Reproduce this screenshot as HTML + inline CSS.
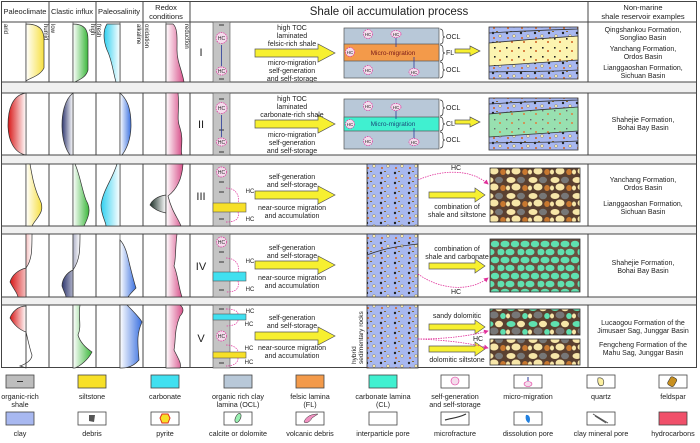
<!DOCTYPE html>
<html><head><meta charset="utf-8"><style>
html,body{margin:0;padding:0;background:#fff}
svg{display:block}
text{font-family:"Liberation Sans",sans-serif;fill:#222}
.s{font-size:7px;text-anchor:middle}
.h{font-size:8.5px;text-anchor:middle}
.v{font-size:6px}
.hc{font-size:6px;fill:#e0309a;text-anchor:middle}
</style></head><body>
<svg width="700" height="443" viewBox="0 0 700 443" xmlns="http://www.w3.org/2000/svg">
<defs>
<linearGradient id="gy" x1="0" x2="1"><stop offset="0" stop-color="#fff"/><stop offset="1" stop-color="#f7e040"/></linearGradient>
<linearGradient id="gg" x1="0" x2="1"><stop offset="0" stop-color="#fff"/><stop offset="1" stop-color="#3cb83c"/></linearGradient>
<linearGradient id="gc" x1="0" x2="1"><stop offset="0" stop-color="#30d0f0"/><stop offset="1" stop-color="#fff"/></linearGradient>
<linearGradient id="gp" x1="0" x2="1"><stop offset="0" stop-color="#fff"/><stop offset="1" stop-color="#d8508a"/></linearGradient>
<linearGradient id="gr" x1="0" x2="1"><stop offset="0" stop-color="#d81818"/><stop offset="1" stop-color="#fff"/></linearGradient>
<linearGradient id="gn" x1="0" x2="1"><stop offset="0" stop-color="#303870"/><stop offset="1" stop-color="#fff"/></linearGradient>
<linearGradient id="gb" x1="0" x2="1"><stop offset="0" stop-color="#fff"/><stop offset="1" stop-color="#3a70e0"/></linearGradient>
<linearGradient id="gk" x1="0" x2="1"><stop offset="0" stop-color="#1c3028"/><stop offset="1" stop-color="#fff"/></linearGradient>
<pattern id="pm" width="22" height="16" patternUnits="userSpaceOnUse">
<rect width="22" height="16" fill="#5a4030"/>
<ellipse cx="5" cy="4" rx="4.5" ry="3" fill="#f7e6a8"/><ellipse cx="15" cy="4" rx="4" ry="3.2" fill="#777"/>
<ellipse cx="10" cy="11" rx="4.5" ry="3.5" fill="#f7e6a8"/><ellipse cx="19" cy="12" rx="2.8" ry="3" fill="#c87830"/>
<ellipse cx="2" cy="12" rx="2" ry="2.5" fill="#f7e6a8"/></pattern>
<pattern id="pg" width="20" height="16" patternUnits="userSpaceOnUse">
<rect width="20" height="16" fill="#6a5040"/>
<ellipse cx="5" cy="4" rx="4.5" ry="3.3" fill="#5fe0b0"/><ellipse cx="15" cy="4" rx="4.2" ry="3.3" fill="#5fe0b0"/>
<ellipse cx="10" cy="12" rx="4.5" ry="3.3" fill="#5fe0b0"/><ellipse cx="1" cy="12" rx="3.5" ry="3.3" fill="#5fe0b0"/><ellipse cx="19" cy="12" rx="1.5" ry="3" fill="#5fe0b0"/></pattern>
<pattern id="pv" width="22" height="16" patternUnits="userSpaceOnUse">
<rect width="22" height="16" fill="#5a4030"/>
<ellipse cx="5" cy="4" rx="4.5" ry="3" fill="#5fe0b0"/><ellipse cx="15" cy="4" rx="4" ry="3.2" fill="#f7e6a8"/>
<ellipse cx="10" cy="11" rx="4.5" ry="3.5" fill="#777"/><ellipse cx="19" cy="12" rx="2.8" ry="3" fill="#5fe0b0"/><ellipse cx="2" cy="12" rx="2" ry="2.5" fill="#f7e6a8"/></pattern>
<pattern id="pd" width="14" height="10" patternUnits="userSpaceOnUse">
<rect width="14" height="10" fill="#a8b8f0"/>
<circle cx="3" cy="3" r="1.2" fill="#222"/><circle cx="10" cy="6" r="1.5" fill="#f7e6a8" stroke="#555" stroke-width=".3"/><rect x="6" y="1" width="2" height="1" fill="#8a6a30"/><circle cx="4" cy="8" r="1" fill="#d06020"/></pattern>
<pattern id="py" width="12" height="9" patternUnits="userSpaceOnUse">
<rect width="12" height="9" fill="#fcf4b0"/><rect x="2" y="2" width="1.6" height="1.6" fill="#222"/><circle cx="8" cy="6" r="1" fill="#d06020"/></pattern>
<pattern id="pc" width="12" height="9" patternUnits="userSpaceOnUse">
<rect width="12" height="9" fill="#98e0b0"/><rect x="2" y="2" width="1.4" height="1.4" fill="#666"/><circle cx="8" cy="6" r="1" fill="#e08040"/></pattern>
<marker id="ah" markerWidth="6" markerHeight="6" refX="5" refY="3" orient="auto"><path d="M0,0 L6,3 L0,6Z" fill="#e0309a"/></marker>
</defs>

<!-- frame -->
<g stroke="#444" stroke-width="1" fill="none">
<rect x="1.5" y="1.5" width="695" height="366"/>
<line x1="1.5" y1="22" x2="696.5" y2="22"/>
<line x1="1.5" y1="82" x2="696.5" y2="82"/><line x1="1.5" y1="93" x2="696.5" y2="93"/>
<line x1="1.5" y1="155" x2="696.5" y2="155"/><line x1="1.5" y1="164" x2="696.5" y2="164"/>
<line x1="1.5" y1="226" x2="696.5" y2="226"/><line x1="1.5" y1="234" x2="696.5" y2="234"/>
<line x1="1.5" y1="297" x2="696.5" y2="297"/><line x1="1.5" y1="305" x2="696.5" y2="305"/>
</g>
<g fill="#f0f0f0"><rect x="2" y="82.5" width="694" height="10"/><rect x="2" y="155.5" width="694" height="8"/><rect x="2" y="226.5" width="694" height="7"/><rect x="2" y="297.5" width="694" height="7"/></g>
<g stroke="#444" stroke-width="1">
<line x1="49" y1="1" x2="49" y2="82"/><line x1="96" y1="1" x2="96" y2="82"/><line x1="143" y1="1" x2="143" y2="82"/><line x1="190" y1="1" x2="190" y2="82"/><line x1="588" y1="1" x2="588" y2="82"/>
<g id="cols">
<line x1="49" y1="93" x2="49" y2="155"/><line x1="96" y1="93" x2="96" y2="155"/><line x1="143" y1="93" x2="143" y2="155"/><line x1="190" y1="93" x2="190" y2="155"/><line x1="588" y1="93" x2="588" y2="155"/>
<line x1="49" y1="164" x2="49" y2="226"/><line x1="96" y1="164" x2="96" y2="226"/><line x1="143" y1="164" x2="143" y2="226"/><line x1="190" y1="164" x2="190" y2="226"/><line x1="588" y1="164" x2="588" y2="226"/>
<line x1="49" y1="234" x2="49" y2="297"/><line x1="96" y1="234" x2="96" y2="297"/><line x1="143" y1="234" x2="143" y2="297"/><line x1="190" y1="234" x2="190" y2="297"/><line x1="588" y1="234" x2="588" y2="297"/>
<line x1="49" y1="305" x2="49" y2="368"/><line x1="96" y1="305" x2="96" y2="368"/><line x1="143" y1="305" x2="143" y2="368"/><line x1="190" y1="305" x2="190" y2="368"/><line x1="588" y1="305" x2="588" y2="368"/>
</g>
<g stroke="#666" stroke-width="0.8">
<line x1="26" y1="22" x2="26" y2="82"/><line x1="73" y1="22" x2="73" y2="82"/><line x1="120" y1="22" x2="120" y2="82"/><line x1="166" y1="22" x2="166" y2="82"/>
<line x1="26" y1="93" x2="26" y2="155"/><line x1="73" y1="93" x2="73" y2="155"/><line x1="120" y1="93" x2="120" y2="155"/><line x1="166" y1="93" x2="166" y2="155"/>
<line x1="26" y1="164" x2="26" y2="226"/><line x1="73" y1="164" x2="73" y2="226"/><line x1="120" y1="164" x2="120" y2="226"/><line x1="166" y1="164" x2="166" y2="226"/>
<line x1="26" y1="234" x2="26" y2="297"/><line x1="73" y1="234" x2="73" y2="297"/><line x1="120" y1="234" x2="120" y2="297"/><line x1="166" y1="234" x2="166" y2="297"/>
<line x1="26" y1="305" x2="26" y2="368"/><line x1="73" y1="305" x2="73" y2="368"/><line x1="120" y1="305" x2="120" y2="368"/><line x1="166" y1="305" x2="166" y2="368"/>
</g>
</g>

<!-- headers -->
<text x="25" y="14" class="s" style="font-size:7.5px">Paleoclimate</text>
<text x="72" y="14" class="s" style="font-size:7.5px">Clastic influx</text>
<text x="119" y="14" class="s" style="font-size:7.5px">Paleosalinity</text>
<text x="166" y="10" class="s" style="font-size:7.5px">Redox</text>
<text x="166" y="19" class="s" style="font-size:7.5px">conditions</text>
<text x="389" y="15" style="font-size:11.5px;text-anchor:middle">Shale oil accumulation process</text>
<text x="643" y="10" class="s" style="font-size:7.5px">Non-marine</text>
<text x="643" y="19" class="s" style="font-size:7.5px">shale reservoir examples</text>
<g class="v" fill="#333">
<text transform="translate(4,24) rotate(90)" class="v">arid</text>
<text transform="translate(44,24) rotate(90)" class="v">humid</text>
<text transform="translate(51,24) rotate(90)" class="v">low</text>
<text transform="translate(91,24) rotate(90)" class="v">high</text>
<text transform="translate(97,24) rotate(90)" class="v">fresh</text>
<text transform="translate(137,24) rotate(90)" class="v">alkaline</text>
<text transform="translate(145,24) rotate(90)" class="v">oxidation</text>
<text transform="translate(185,24) rotate(90)" class="v">reduction</text>
</g>

<!-- curves -->
<g stroke="#333" stroke-width="0.7">
<path d="M26,24 C40,24 44,30 44,40 L44,68 C40,76 30,78 26,81Z" fill="url(#gy)"/>
<path d="M73,24 C85,24 88,30 88,40 L88,70 C86,78 78,80 75,82 L73,82Z" fill="url(#gg)"/>
<path d="M120,24 L107,24 C103,30 103,40 107,50 C112,60 113,72 116,82 L120,82Z" fill="url(#gc)"/>
<path d="M166,24 L173,24 C178,28 177,40 177,50 C177,62 182,70 184,82 L166,82Z" fill="url(#gp)"/>

<path d="M26,93 C12,95 8,110 8,125 C8,140 14,153 26,155Z" fill="url(#gr)"/>
<path d="M73,93 C64,100 62,115 62,125 C62,140 66,150 70,155 L73,155Z" fill="url(#gn)"/>
<path d="M120,93 C128,100 131,110 131,125 C131,140 126,150 122,155 L120,155Z" fill="url(#gb)"/>
<path d="M166,93 L178,93 C180,110 176,118 180,128 C184,140 180,150 182,155 L166,155Z" fill="url(#gp)"/>

<path d="M26,164 L30,164 C32,175 34,188 40,200 C46,212 36,218 32,226 L26,226Z" fill="url(#gy)"/>
<path d="M73,164 L75,164 C80,175 82,190 86,200 C92,210 88,218 84,226 L73,226Z" fill="url(#gg)"/>
<path d="M120,164 L117,164 C112,180 103,190 101,205 C101,215 106,222 106,226 L120,226Z" fill="url(#gc)"/>
<path d="M166,195 C158,196 152,200 150,205 C155,210 160,212 166,213Z" fill="url(#gk)"/>
<path d="M166,164 L183,164 C182,180 176,190 168,196 C172,212 178,218 181,226 L166,226Z" fill="url(#gp)"/>

<path d="M26,234 L32,234 C32,250 32,260 26,268 C18,270 12,275 10,282 C14,290 17,292 18,297 L26,297Z" fill="url(#gr)"/>
<path d="M73,234 L80,234 C80,250 80,260 73,270 C66,273 62,280 62,286 C64,292 66,295 66,297 L73,297Z" fill="url(#gn)"/>
<path d="M120,240 C126,246 128,258 130,266 C132,274 134,282 136,288 C132,292 130,294 128,297 L120,297Z" fill="url(#gb)"/>
<path d="M166,234 L177,234 C175,250 176,260 174,266 C178,275 178,285 182,297 L166,297Z" fill="url(#gp)"/>

<path d="M26,306 C18,306 12,312 10,318 C14,325 20,330 26,332Z" fill="url(#gr)"/>
<path d="M26,332 C28,340 30,350 32,355 C32,360 26,364 20,366 L26,368Z" fill="none"/>
<path d="M73,305 L80,305 C78,318 82,326 78,335 C80,342 86,348 92,352 C88,360 80,366 75,368 L73,368Z" fill="url(#gg)"/>
<path d="M120,305 L127,305 C134,312 140,318 142,322 C136,335 138,345 139,360 C134,366 128,368 122,368 L120,368Z" fill="url(#gb)"/>
<path d="M166,305 L180,305 C184,308 184,312 180,316 C174,330 176,340 174,350 C178,358 182,364 180,368 L166,368Z" fill="url(#gp)"/>
</g>

<!-- roman numerals -->
<g style="font-size:11px;text-anchor:middle">
<text x="201" y="56">I</text><text x="201" y="128">II</text><text x="201" y="200">III</text><text x="201" y="270">IV</text><text x="201" y="342">V</text>
</g>

<!-- strips -->
<g fill="#c4c4c4" stroke="#555" stroke-width="0.6">
<rect x="213" y="22" width="17" height="60"/><rect x="213" y="93" width="17" height="62"/><rect x="213" y="164" width="17" height="62"/><rect x="213" y="234" width="17" height="63"/><rect x="213" y="305" width="17" height="63"/>
</g>
<g stroke="#333" stroke-width="1">
<line x1="219" y1="25" x2="224" y2="25"/><line x1="219" y1="79" x2="224" y2="79"/>
<line x1="219" y1="99" x2="224" y2="99"/><line x1="219" y1="130" x2="224" y2="130"/><line x1="219" y1="152" x2="224" y2="152"/>
<line x1="219" y1="182" x2="224" y2="182"/><line x1="219" y1="192" x2="224" y2="192"/><line x1="219" y1="219" x2="224" y2="219"/>
<line x1="219" y1="252" x2="224" y2="252"/><line x1="219" y1="262" x2="224" y2="262"/><line x1="219" y1="290" x2="224" y2="290"/>
<line x1="219" y1="309" x2="224" y2="309"/><line x1="219" y1="340" x2="224" y2="340"/><line x1="219" y1="363" x2="224" y2="363"/>
</g>
<!-- layers in strips -->
<rect x="213" y="203" width="33" height="9" fill="#f7e028" stroke="#555" stroke-width=".6"/>
<rect x="213" y="272" width="33" height="9" fill="#40e0f0" stroke="#555" stroke-width=".6"/>
<rect x="213" y="314" width="33" height="6" fill="#40e0f0" stroke="#555" stroke-width=".6"/>
<rect x="213" y="352" width="33" height="6" fill="#f7e028" stroke="#555" stroke-width=".6"/>
<!-- HC circles -->
<g fill="#f4dcec" stroke="#e0309a" stroke-width="0.7" stroke-dasharray="1.5,1">
<circle cx="221.5" cy="38" r="5.5"/><ellipse cx="221.5" cy="71" rx="5" ry="4"/>
<circle cx="221.5" cy="108" r="5.5"/><ellipse cx="221.5" cy="142" rx="5" ry="4"/>
<circle cx="221.5" cy="172" r="5"/><circle cx="221.5" cy="242" r="5"/><circle cx="221.5" cy="336" r="5"/>
</g>
<g class="hc" style="font-size:5px"><text x="221.5" y="40">HC</text><text x="221.5" y="73">HC</text><text x="221.5" y="110">HC</text><text x="221.5" y="144">HC</text><text x="221.5" y="174">HC</text><text x="221.5" y="244">HC</text><text x="221.5" y="338">HC</text></g>
<g stroke="#2a3a9a" stroke-width=".8"><line x1="221.5" y1="66" x2="221.5" y2="45"/><line x1="221.5" y1="137" x2="221.5" y2="115"/></g>
<g fill="none" stroke="#e0309a" stroke-width=".7" stroke-dasharray="1.5,1">
<path d="M226,188 C236,188 240,196 238,203"/><path d="M238,212 C240,220 234,222 226,222"/>
<path d="M226,258 C236,258 240,266 238,272"/><path d="M238,281 C240,290 234,292 226,292"/>
<path d="M226,309 C234,309 238,311 238,314"/><path d="M238,320 C238,324 232,326 226,326"/>
<path d="M226,345 C234,345 238,349 238,352"/><path d="M238,358 C238,364 232,366 226,366"/>
</g>
<g class="hc"><text x="250" y="193">HC</text><text x="250" y="221">HC</text><text x="250" y="263">HC</text><text x="250" y="291">HC</text><text x="250" y="313">HC</text><text x="249" y="326">HC</text><text x="249" y="350">HC</text><text x="249" y="364">HC</text></g>

<!-- yellow arrows -->
<g fill="#f7f030" stroke="#555" stroke-width="0.7">
<polygon points="255,49 318,49 318,44 335,53 318,62 318,57 255,57"/>
<polygon points="255,120 318,120 318,115 335,124 318,133 318,128 255,128"/>
<polygon points="255,191 318,191 318,186 335,195 318,204 318,199 255,199"/>
<polygon points="255,261 318,261 318,256 335,265 318,274 318,269 255,269"/>
<polygon points="255,332 318,332 318,327 335,336 318,345 318,340 255,340"/>
<polygon points="455,49 470,49 470,46 480,51 470,56 470,53 455,53"/>
<polygon points="455,120 470,120 470,117 480,122 470,127 470,124 455,124"/>
<polygon points="429,192 475,192 475,188 485,195 475,202 475,198 429,198"/>
<polygon points="429,263 475,263 475,259 485,266 475,273 475,269 429,269"/>
<polygon points="429,324 475,324 475,320 485,327 475,334 475,330 429,330"/>
<polygon points="429,346 475,346 475,342 485,349 475,356 475,352 429,352"/>
</g>
<g class="s">
<text x="292" y="30">high TOC</text><text x="292" y="38">laminated</text><text x="292" y="46">felsic-rich shale</text>
<text x="292" y="65">micro-migration</text><text x="292" y="73">self-generation</text><text x="292" y="81">and self-storage</text>
<text x="292" y="101">high TOC</text><text x="292" y="109">laminated</text><text x="292" y="117">carbonate-rich shale</text>
<text x="292" y="137">micro-migration</text><text x="292" y="145">self-generation</text><text x="292" y="153">and self-storage</text>
<text x="292" y="179">self-generation</text><text x="292" y="187">and self-storage</text><text x="292" y="210">near-source migration</text><text x="292" y="218">and accumulation</text>
<text x="292" y="250">self-generation</text><text x="292" y="258">and self-storage</text><text x="292" y="280">near-source migration</text><text x="292" y="288">and accumulation</text>
<text x="292" y="320">self-generation</text><text x="292" y="328">and self-storage</text><text x="292" y="350">near-source migration</text><text x="292" y="358">and accumulation</text>
<text x="457" y="209">combination of</text><text x="457" y="217">shale and siltstone</text>
<text x="457" y="251">combination of</text><text x="457" y="259">shale and carbonate</text>
<text x="457" y="318">sandy dolomitic</text><text x="457" y="362">dolomitic siltstone</text>
</g>
<text transform="translate(356,364) rotate(-90)" class="s" style="font-size:6.5px;text-anchor:start">hybrid</text>
<text transform="translate(363,364) rotate(-90)" class="s" style="font-size:6.5px;text-anchor:start">sedimentary rocks</text>

<!-- OCL boxes -->
<g stroke="#555" stroke-width=".7">
<rect x="344" y="28" width="95" height="50" fill="#b8c8d8"/><rect x="344" y="44" width="95" height="17" fill="#f39a4a"/>
<rect x="344" y="99" width="95" height="50" fill="#b8c8d8"/><rect x="344" y="117" width="95" height="14" fill="#40f0d0"/>
</g>
<g fill="#f4dcec" stroke="#e0309a" stroke-width=".7" stroke-dasharray="1.5,1">
<circle cx="368" cy="34" r="4.5"/><ellipse cx="396" cy="34" rx="5" ry="3.5"/><circle cx="350" cy="52" r="4.5"/><circle cx="368" cy="70" r="4.5"/><ellipse cx="414" cy="72" rx="5" ry="3.5"/>
<circle cx="368" cy="106" r="4.5"/><ellipse cx="396" cy="107" rx="5" ry="3.5"/><circle cx="350" cy="124" r="4.5"/><circle cx="368" cy="141" r="4.5"/><ellipse cx="414" cy="142" rx="5" ry="3.5"/>
</g>
<g class="hc" style="font-size:4.5px"><text x="368" y="36">HC</text><text x="396" y="36">HC</text><text x="350" y="54">HC</text><text x="368" y="72">HC</text><text x="414" y="74">HC</text>
<text x="368" y="108">HC</text><text x="396" y="109">HC</text><text x="350" y="126">HC</text><text x="368" y="143">HC</text><text x="414" y="144">HC</text></g>
<g stroke="#2a3a9a" stroke-width=".8"><line x1="396" y1="38" x2="396" y2="47"/><line x1="414" y1="68" x2="414" y2="57"/><line x1="396" y1="111" x2="396" y2="119"/><line x1="414" y1="138" x2="414" y2="128"/></g>
<text x="393" y="55" class="s" style="font-size:6.5px;fill:#7a1a1a">Micro-migration</text>
<text x="393" y="126" class="s" style="font-size:6.5px;fill:#1a4a7a">Micro-migration</text>
<g fill="none" stroke="#333" stroke-width=".7">
<path d="M440,29 Q443,29 443,33 L443,35 Q443,37 445,37 Q443,37 443,39 L443,41 Q443,44 440,44"/>
<path d="M440,45 Q443,45 443,49 L443,51 Q443,53 445,53 Q443,53 443,55 L443,57 Q443,61 440,61"/>
<path d="M440,62 Q443,62 443,66 L443,68 Q443,70 445,70 Q443,70 443,72 L443,74 Q443,78 440,78"/>
<path d="M440,100 Q443,100 443,104 L443,106 Q443,108 445,108 Q443,108 443,110 L443,112 Q443,116 440,116"/>
<path d="M440,117 Q443,117 443,121 L443,122 Q443,124 445,124 Q443,124 443,126 L443,127 Q443,131 440,131"/>
<path d="M440,132 Q443,132 443,136 L443,138 Q443,140 445,140 Q443,140 443,142 L443,144 Q443,148 440,148"/>
</g>
<g style="font-size:7px"><text x="446" y="39">OCL</text><text x="446" y="55">FL</text><text x="446" y="72">OCL</text><text x="446" y="110">OCL</text><text x="446" y="126">CL</text><text x="446" y="142">OCL</text></g>

<!-- thin section images -->
<g stroke="#333" stroke-width=".8">
<rect x="489" y="27" width="89" height="52" fill="url(#pd)"/>
<path d="M489,43 C520,40 550,38 578,36 L578,60 C550,62 520,64 489,66Z" fill="url(#py)"/>
<rect x="489" y="98" width="89" height="52" fill="url(#pd)"/>
<path d="M489,114 C520,111 550,109 578,107 L578,131 C550,133 520,135 489,137Z" fill="url(#pc)"/>
<rect x="367" y="164" width="51" height="62" fill="url(#pd)"/>
<rect x="367" y="234" width="51" height="63" fill="url(#pd)"/>
<rect x="367" y="305" width="51" height="63" fill="url(#pd)"/>
<rect x="490" y="168" width="90" height="54" fill="url(#pm)"/>
<rect x="490" y="239" width="90" height="53" fill="url(#pg)"/>
<rect x="490" y="309" width="90" height="26" fill="url(#pv)"/>
<rect x="490" y="339" width="90" height="26" fill="url(#pm)"/>
</g>
<g fill="none" stroke="#333" stroke-width=".8"><path d="M489,33 C520,31 550,30 578,29"/><path d="M489,72 C520,71 550,72 578,70"/><path d="M489,104 C520,102 550,101 578,100"/><path d="M489,143 C520,142 550,143 578,141"/><path d="M367,255 C385,248 400,246 418,244"/></g>
<g fill="none" stroke="#e0309a" stroke-width=".8" stroke-dasharray="1.5,1">
<path d="M418,180 C440,170 470,168 488,184" marker-end="url(#ah)"/>
<path d="M418,274 C440,290 470,292 488,278" marker-end="url(#ah)"/>
<path d="M418,339 C445,339 470,336 488,331" marker-end="url(#ah)"/>
<path d="M418,339 C445,340 470,343 488,348" marker-end="url(#ah)"/>
</g>
<g class="hc" style="font-size:7px"><text x="456" y="170">HC</text><text x="456" y="294">HC</text><text x="478" y="341">HC</text></g>

<!-- examples -->
<g class="s">
<text x="643" y="32">Qingshankou Formation,</text><text x="643" y="40">Songliao Basin</text>
<text x="643" y="51">Yanchang Formation,</text><text x="643" y="59">Ordos Basin</text>
<text x="643" y="70">Lianggaoshan Formation,</text><text x="643" y="78">Sichuan Basin</text>
<text x="643" y="122">Shahejie Formation,</text><text x="643" y="130">Bohai Bay  Basin</text>
<text x="643" y="182">Yanchang Formation,</text><text x="643" y="190">Ordos Basin</text>
<text x="643" y="206">Lianggaoshan Formation,</text><text x="643" y="214">Sichuan Basin</text>
<text x="643" y="265">Shahejie Formation,</text><text x="643" y="273">Bohai Bay Basin</text>
<text x="643" y="325">Lucaogou Formation of the</text><text x="643" y="333">Jimusaer Sag, Junggar Basin</text>
<text x="643" y="347">Fengcheng Formation of the</text><text x="643" y="355">Mahu Sag, Junggar Basin</text>
</g>

<!-- legend -->
<g stroke="#444" stroke-width=".8">
<rect x="6" y="375" width="28" height="13" fill="#bdbdbd"/>
<rect x="78" y="375" width="28" height="13" fill="#f7e028"/>
<rect x="151" y="375" width="28" height="13" fill="#40e0f0"/>
<rect x="224" y="375" width="28" height="13" fill="#b8c8d8"/>
<rect x="296" y="375" width="28" height="13" fill="#f39a4a"/>
<rect x="369" y="375" width="28" height="13" fill="#40f0d0"/>
<rect x="441" y="375" width="28" height="13" fill="#fff"/>
<rect x="514" y="375" width="28" height="13" fill="#fff"/>
<rect x="587" y="375" width="28" height="13" fill="#fff"/>
<rect x="659" y="375" width="28" height="13" fill="#fff"/>
<rect x="6" y="412" width="28" height="13" fill="#a8b8f0"/>
<rect x="78" y="412" width="28" height="13" fill="#fff"/>
<rect x="151" y="412" width="28" height="13" fill="#fff"/>
<rect x="224" y="412" width="28" height="13" fill="#fff"/>
<rect x="296" y="412" width="28" height="13" fill="#fff"/>
<rect x="369" y="412" width="28" height="13" fill="#fff"/>
<rect x="441" y="412" width="28" height="13" fill="#fff"/>
<rect x="514" y="412" width="28" height="13" fill="#fff"/>
<rect x="587" y="412" width="28" height="13" fill="#fff"/>
<rect x="659" y="412" width="28" height="13" fill="#f0506a"/>
</g>
<line x1="17" y1="381.5" x2="23" y2="381.5" stroke="#333"/>
<circle cx="455" cy="381" r="4" fill="#f4dcec" stroke="#e0309a" stroke-width=".6"/>
<ellipse cx="528" cy="384" rx="4" ry="2.5" fill="#f4dcec" stroke="#e0309a" stroke-width=".6"/><line x1="528" y1="377" x2="528" y2="381" stroke="#2a3a9a"/>
<path d="M598,378 C603,377 605,381 603,385 C600,387 597,385 598,378Z" fill="#fcf0a0" stroke="#333" stroke-width=".6"/>
<rect x="669" y="377" width="7" height="9" rx="2" fill="#c89020" stroke="#333" stroke-width=".6" transform="rotate(30,672,381)"/>
<path d="M89,415 L95,415 L94,422 L89,421Z" fill="#555"/>
<polygon points="162,414 168,414 170,418 168,423 162,423 160,418" fill="#f7e028" stroke="#e03020" stroke-width="1"/>
<ellipse cx="238" cy="418" rx="2.5" ry="5" fill="#98f0b0" stroke="#333" stroke-width=".6" transform="rotate(25,238,418)"/>
<path d="M304,422 C306,416 312,414 318,414 L312,418 C310,422 306,424 304,422Z" fill="#f090c0" stroke="#333" stroke-width=".5"/>
<path d="M445,420 C452,418 458,418 466,414" fill="none" stroke="#333" stroke-width="1.2"/>
<path d="M526,415 C530,414 531,420 529,423 C526,422 525,418 526,415Z" fill="#2080e0"/>
<path d="M593,414 L608,423 M595,416 L606,423" stroke="#555" stroke-width="1"/>
<g class="s" style="font-size:7.2px">
<text x="20" y="399">organic-rich</text><text x="20" y="407">shale</text>
<text x="92" y="399">siltstone</text><text x="165" y="399">carbonate</text>
<text x="238" y="399">organic rich clay</text><text x="238" y="407">lamina (OCL)</text>
<text x="310" y="399">felsic lamina</text><text x="310" y="407">(FL)</text>
<text x="383" y="399">carbonate lamina</text><text x="383" y="407">(CL)</text>
<text x="455" y="399">self-generation</text><text x="455" y="407">and self-storage</text>
<text x="528" y="399">micro-migration</text><text x="601" y="399">quartz</text><text x="673" y="399">feldspar</text>
<text x="20" y="436">clay</text><text x="92" y="436">debris</text><text x="165" y="436">pyrite</text><text x="238" y="436">calcite or dolomite</text>
<text x="310" y="436">volcanic debris</text><text x="383" y="436">interparticle pore</text><text x="455" y="436">microfracture</text>
<text x="528" y="436">dissolution pore</text><text x="601" y="436">clay mineral pore</text><text x="673" y="436">hydrocarbons</text>
</g>
</svg>
</body></html>
